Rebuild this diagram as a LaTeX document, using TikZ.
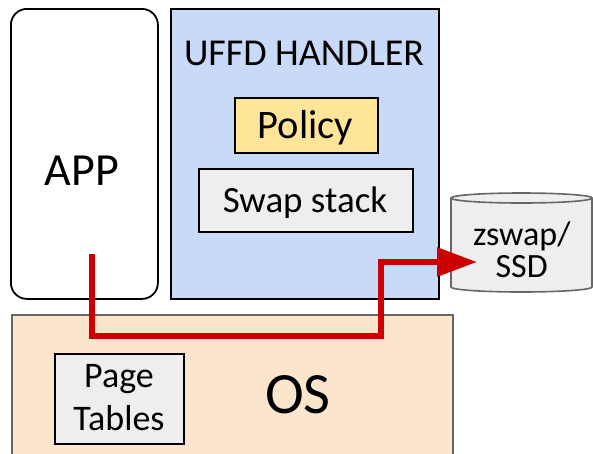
\documentclass[tikz,border=0pt]{standalone}
\usepackage{fontspec}
\setmainfont{Carlito}
\usetikzlibrary{arrows.meta}

\definecolor{handlerblue}{HTML}{C9DAF8}
\definecolor{osfill}{HTML}{FCE5CD}
\definecolor{policyfill}{HTML}{FFE599}
\definecolor{boxgray}{HTML}{EEEEEE}
\definecolor{edgegray}{HTML}{666666}
\definecolor{flowred}{HTML}{CC0000}

\begin{document}
\begin{tikzpicture}[x=1pt,y=-1pt,
  blk/.style={draw=black, line width=1.8pt, inner sep=0pt, anchor=north west},
  graybox/.style={blk, fill=boxgray},
  lbl/.style={inner sep=0pt, anchor=base},
  flow/.style={draw=flowred, line width=6pt, line join=miter,
               -{Triangle[length=40pt,width=28pt]}}]

\useasboundingbox (0,0) rectangle (593,453);
\clip (0,0) rectangle (593,453);

% operating system layer (runs off the bottom edge)
\node[blk, draw=edgegray, fill=osfill, minimum width=441pt, minimum height=200pt] (os) at (11,314) {};
\node[lbl, font=\fontsize{58.5}{58.5}\selectfont] (oslabel) at (298,413) {OS};
\node[graybox, minimum width=129pt, minimum height=90pt] (pt) at (54,353) {};
\node[lbl, font=\fontsize{36}{36}\selectfont] (ptl1) at (119,387) {Page};
\node[lbl, font=\fontsize{36}{36}\selectfont] (ptl2) at (119,430) {Tables};

% application
\node[blk, fill=white, rounded corners=16pt, minimum width=147pt, minimum height=290pt] (app) at (10,8) {};
\node[lbl, font=\fontsize{46}{46}\selectfont] (applabel) at (82,185) {APP};

% userfaultfd handler with its parts
\node[blk, fill=handlerblue, minimum width=268pt, minimum height=290pt] (uffd) at (170,8) {};
\node[lbl, font=\fontsize{38}{38}\selectfont] (uffdlabel) at (304,65) {UFFD HANDLER};
\node[blk, fill=policyfill, minimum width=143pt, minimum height=55pt] (policy) at (234,97) {};
\node[lbl, font=\fontsize{40.5}{40.5}\selectfont] (policylabel) at (305.5,138) {Policy};
\node[graybox, minimum width=214pt, minimum height=63pt] (swap) at (198,168) {};
\node[lbl, font=\fontsize{37}{37}\selectfont] (swaplabel) at (305,212) {Swap stack};

% backing store drawn as a cylinder
\path[draw=edgegray, line width=1.6pt, fill=boxgray]
  (451,198) -- (451,287) arc[start angle=180, end angle=0, x radius=70.5, y radius=5]
  -- (592,198) arc[start angle=0, end angle=-180, x radius=70.5, y radius=5] -- cycle;
\draw[edgegray, line width=1.6pt] (451,198) arc[start angle=180, end angle=0, x radius=70.5, y radius=5];
\node[lbl, font=\fontsize{34}{34}\selectfont] (disk1) at (521.7,245) {zswap/};
\node[lbl, font=\fontsize{34}{34}\selectfont] (disk2) at (521.7,277) {SSD};

% page-fault path: app -> kernel -> handler -> storage
\coordinate (fault) at (92,254);
\coordinate (turn) at (381,336);
\coordinate (tip) at (477,262);
\draw[flow] (fault) |- (turn) |- (tip);

\end{tikzpicture}
\end{document}
